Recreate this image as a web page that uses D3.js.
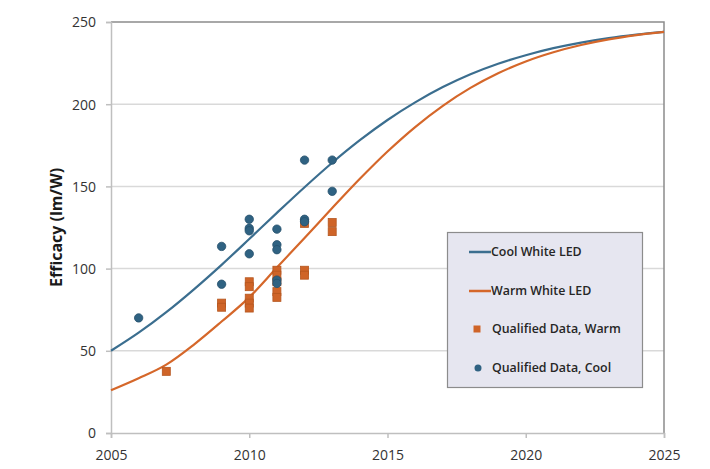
<!DOCTYPE html>
<html>
<head>
<meta charset="utf-8">
<script src="https://cdn.jsdelivr.net/npm/d3@7"></script>
<style>
  html, body { margin: 0; padding: 0; background: #fff; }
  svg { display: block; }
</style>
</head>
<body>
<svg id="chart" width="710" height="469"></svg>
<script>
// ---- Data ----
const years = [2005,2006,2007,2008,2009,2010,2011,2012,2013,2014,2015,2016,2017,2018,2019,2020,2021,2022,2023,2024,2025];
const coolCurve = [50,61,73.5,87.4,102.3,118,133.9,149.5,164.4,178.1,190.4,201.1,210.4,218.2,224.6,229.8,234.1,237.5,240.2,242.3,244];
const warmCurve = [26,33.3,41.6,53.8,67.8,82.5,100.6,118.6,136.8,154.6,171.2,186.1,199,209.9,218.8,226,231.6,236,239.4,242,244];

const warmDataYears  = [2007,2009,2009,2010,2010,2010,2010,2010,2011,2011,2011,2011,2011,2012,2012,2012,2013,2013];
const warmDataValues = [37.5,79,76.5,92,89,82,79,76,99,96,92,86,82.5,127.5,99,96,128,122.5];

const coolDataYears  = [2006,2009,2009,2010,2010,2010,2010,2011,2011,2011,2011,2011,2012,2012,2012,2013,2013];
const coolDataValues = [70,113.5,90.5,130,124.5,123,109,124,114.5,111.5,93,91,166,130,128.5,166,147];

const xTicks = [2005,2010,2015,2020,2025];
const yTicks = [0,50,100,150,200,250];

const legendLabels = ["Cool White LED","Warm White LED","Qualified Data, Warm","Qualified Data, Cool"];
const yTitle = "Efficacy (lm/W)";

// ---- Layout ----
const svg = d3.select("#chart");
const pL = 111, pR = 664, pT = 22, pB = 433;
const coolLine = "#3b6e8f", warmLine = "#d5672a";
const coolMark = "#2f6282", warmMark = "#cf6428";

const x = d3.scaleLinear().domain([2005,2025]).range([pL,pR]);
const y = d3.scaleLinear().domain([0,250]).range([pB,pT]);

// gridlines
svg.append("g").selectAll("line").data(yTicks.filter(d => d > 0 && d < 250)).join("line")
  .attr("x1", pL).attr("x2", pR)
  .attr("y1", d => y(d)).attr("y2", d => y(d))
  .attr("stroke", "#d9d9d9").attr("stroke-width", 1.5);

// frame top/right
svg.append("path")
  .attr("d", `M${pL},${y(250)}H${pR}V${pB}`)
  .attr("fill","none").attr("stroke","#8c8c8c").attr("stroke-width",1.5);

// axes
const yAxis = d3.axisLeft(y).tickValues(yTicks).tickSize(5).tickPadding(10).tickFormat(d3.format("d"));
const gy = svg.append("g").attr("transform", `translate(${pL},0)`).call(yAxis);
const xAxis = d3.axisBottom(x).tickValues(xTicks).tickSize(5).tickPadding(12).tickFormat(d3.format("d"));
const gx = svg.append("g").attr("transform", `translate(0,${pB})`).call(xAxis);
[gx, gy].forEach(g => {
  g.select(".domain").attr("stroke", "#bfbfbf").attr("stroke-width", 1.5);
  g.selectAll(".tick line").attr("stroke", "#bfbfbf").attr("stroke-width", 1.5);
  g.selectAll(".tick text").attr("fill", "#333")
    .style("font-family", "'Open Sans', sans-serif").style("font-size", "14px");
});
gy.selectAll(".tick text").attr("dy", "0.35em");

// y title
svg.append("text")
  .attr("transform", `translate(62,${(pT+pB)/2}) rotate(-90)`)
  .attr("text-anchor", "middle")
  .style("font-family", "'Open Sans', sans-serif").style("font-weight", "700").style("font-size", "16px")
  .attr("fill", "#1a1a1a")
  .text(yTitle);

// curves
const line = d3.line().x((d,i) => x(years[i])).y(d => y(d)).curve(d3.curveMonotoneX);
svg.append("path").datum(coolCurve).attr("d", line)
  .attr("fill","none").attr("stroke",coolLine).attr("stroke-width",2.2);
svg.append("path").datum(warmCurve).attr("d", line)
  .attr("fill","none").attr("stroke",warmLine).attr("stroke-width",2.2);

// warm squares
const sq = 8;
svg.append("g").selectAll("rect").data(warmDataValues).join("rect")
  .attr("x", (d,i) => x(warmDataYears[i]) - sq/2)
  .attr("y", d => y(d) - sq/2)
  .attr("width", sq).attr("height", sq)
  .attr("fill", warmMark).attr("stroke", "#b5561f").attr("stroke-width", 0.8);

// cool circles
svg.append("g").selectAll("circle").data(coolDataValues).join("circle")
  .attr("cx", (d,i) => x(coolDataYears[i]))
  .attr("cy", d => y(d))
  .attr("r", 4.2)
  .attr("fill", coolMark).attr("stroke", "#26516c").attr("stroke-width", 0.8);

// legend
const lg = svg.append("g");
lg.append("rect").attr("x", 447.5).attr("y", 232.5).attr("width", 195).attr("height", 155)
  .attr("fill", "#e6e6f0").attr("stroke", "#8c8c8c").attr("stroke-width", 1.2);
const rowY = [252, 291, 329, 368];
const textStyle = sel => sel
  .style("font-family", "'Open Sans', sans-serif").style("font-weight", "600").style("font-size", "12.4px")
  .attr("fill", "#262626").attr("dy", "0.35em");
lg.append("line").attr("x1", 469).attr("x2", 491).attr("y1", rowY[0]).attr("y2", rowY[0])
  .attr("stroke", coolLine).attr("stroke-width", 2.5);
lg.append("line").attr("x1", 469).attr("x2", 491).attr("y1", rowY[1]).attr("y2", rowY[1])
  .attr("stroke", warmLine).attr("stroke-width", 2.5);
lg.append("rect").attr("x", 477-3.5).attr("y", rowY[2]-3.5).attr("width", 7).attr("height", 7)
  .attr("fill", warmMark);
lg.append("circle").attr("cx", 478).attr("cy", rowY[3]).attr("r", 3.5).attr("fill", coolMark);
lg.append("text").attr("x", 491).attr("y", rowY[0]).text(legendLabels[0]).call(textStyle);
lg.append("text").attr("x", 491).attr("y", rowY[1]).text(legendLabels[1]).call(textStyle);
lg.append("text").attr("x", 492).attr("y", rowY[2]).text(legendLabels[2]).call(textStyle);
lg.append("text").attr("x", 492).attr("y", rowY[3]).text(legendLabels[3]).call(textStyle);
</script>
</body>
</html>
